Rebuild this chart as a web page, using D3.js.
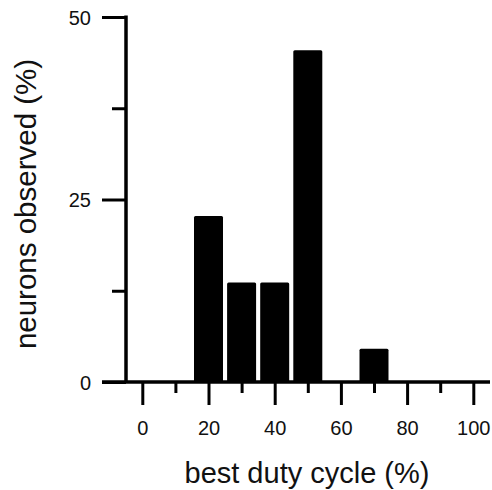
<!DOCTYPE html>
<html>
<head>
<meta charset="utf-8">
<script src="https://cdn.jsdelivr.net/npm/d3@7"></script>
<style>
  html, body { margin: 0; padding: 0; background: #fff; }
  svg { display: block; font-family: "Liberation Sans", Arial, sans-serif; }
</style>
</head>
<body>
<svg id="chart" width="492" height="490"></svg>
<script>
// best duty cycle (%) of each bin, and share of neurons (n = 22)
const dutyCycles = [20, 30, 40, 50, 70];
const neuronShare = [22.73, 13.64, 13.64, 45.45, 4.55];

const xTicks = [0, 10, 20, 30, 40, 50, 60, 70, 80, 90, 100];
const xLabels = [0, 20, 40, 60, 80, 100];
const yTicks = [0, 12.5, 25, 37.5, 50];
const yLabels = [0, 25, 50];

const svg = d3.select('#chart');

const x = d3.scaleLinear().domain([0, 100]).range([142.3, 473.3]);
const y = d3.scaleLinear().domain([0, 50]).range([382, 17]);

const axisX = 126;   // where the y axis sits
const barHalf = 4.38; // half bar width in duty cycle units

// bars
svg.append('g')
  .selectAll('rect')
  .data(dutyCycles)
  .enter().append('rect')
  .attr('x', d => x(d - barHalf))
  .attr('width', d => x(d + barHalf) - x(d - barHalf))
  .attr('y', (d, i) => y(neuronShare[i]))
  .attr('height', (d, i) => y(0) - y(neuronShare[i]))
  .attr('rx', 1.5)
  .attr('fill', '#000');

// x axis ticks (major every 20, minor every 10)
const xAxis = d3.axisBottom(x)
  .tickValues(xTicks)
  .tickSize(0)
  .tickFormat('');
const gx = svg.append('g').attr('transform', `translate(0,${y(0)})`).call(xAxis);
gx.select('.domain').remove();
gx.selectAll('.tick line')
  .attr('y2', d => xLabels.includes(d) ? 23 : 11)
  .attr('stroke', '#000')
  .attr('stroke-width', 3);
gx.selectAll('.tick').filter(d => xLabels.includes(d))
  .append('text')
  .attr('y', 53)
  .attr('fill', '#111')
  .attr('font-size', 20)
  .attr('text-anchor', 'middle')
  .text(d => d);

// y axis ticks (major every 25, minor in between)
const yAxis = d3.axisLeft(y)
  .tickValues(yTicks)
  .tickSize(0)
  .tickFormat('');
const gy = svg.append('g').attr('transform', `translate(${axisX},0)`).call(yAxis);
gy.select('.domain').remove();
gy.selectAll('.tick line')
  .attr('x2', d => yLabels.includes(d) ? -24 : -14)
  .attr('stroke', '#000')
  .attr('stroke-width', 3);
gy.selectAll('.tick').filter(d => yLabels.includes(d))
  .append('text')
  .attr('x', -35)
  .attr('dy', '0.36em')
  .attr('fill', '#111')
  .attr('font-size', 20)
  .attr('text-anchor', 'end')
  .text(d => d);

// axis lines
svg.append('line')
  .attr('x1', 102).attr('x2', 490)
  .attr('y1', y(0)).attr('y2', y(0))
  .attr('stroke', '#000').attr('stroke-width', 3.5);
svg.append('line')
  .attr('x1', axisX).attr('x2', axisX)
  .attr('y1', y(50) - 1.5).attr('y2', y(0))
  .attr('stroke', '#000').attr('stroke-width', 3.5);

// axis titles
svg.append('text')
  .attr('x', 307)
  .attr('y', 483)
  .attr('text-anchor', 'middle')
  .attr('font-size', 29)
  .attr('fill', '#111')
  .text('best duty cycle (%)');

svg.append('text')
  .attr('transform', 'translate(36,204) rotate(-90)')
  .attr('text-anchor', 'middle')
  .attr('font-size', 29.5)
  .attr('fill', '#111')
  .text('neurons observed (%)');
</script>
</body>
</html>
